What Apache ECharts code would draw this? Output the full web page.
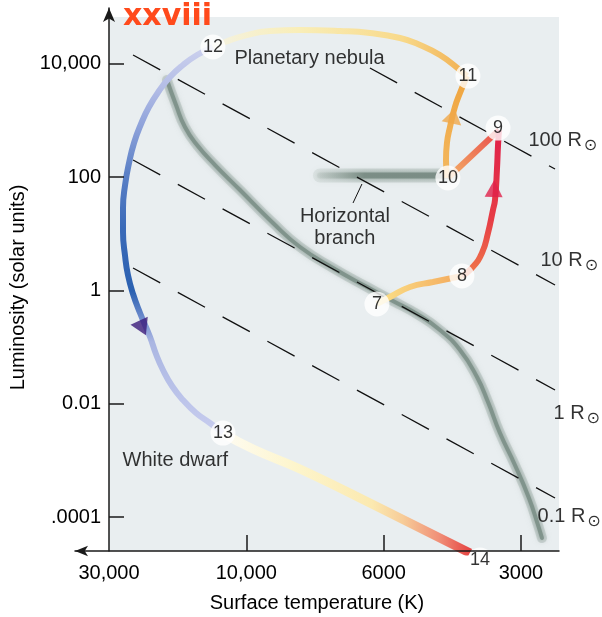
<!DOCTYPE html>
<html><head><meta charset="utf-8">
<script src="https://cdn.jsdelivr.net/npm/echarts@6/dist/echarts.min.js"></script>
<style>html,body{margin:0;padding:0;background:#fff}#c{width:602px;height:617px}</style>
</head><body><div id="c"></div>
<script>
// Axis ticks (x = position on the schematic temperature axis, y = log10 of luminosity)
const xTickValues = [0, 1, 2, 3];
const xTickLabels = ['30,000', '10,000', '6000', '3000'];
const yTickValues = [4, 2, 0, -2, -4];
const yTickLabels = ['10,000', '100', '1', '0.01', '.0001'];

// Main sequence band
const mainSequence = [[0.422,3.716],[0.488,3.274],[0.553,2.886],[0.641,2.568],[0.772,2.215],[0.954,1.774],[1.194,1.192],[1.391,0.768],[1.631,0.397],[1.879,0.062],[2.068,-0.185],[2.243,-0.415],[2.410,-0.697],[2.556,-1.050],[2.680,-1.527],[2.760,-1.968],[2.847,-2.516],[2.956,-3.080],[3.058,-3.663],[3.124,-4.139],[3.153,-4.369]];
const horizontalBranch = [[1.536,2.03],[2.483,2.03]];
const hbLeader = [[1.842,1.880],[1.777,1.545]];

// Evolutionary track segments
const track7to8 = [[1.951,-0.238],[2.046,-0.115],[2.192,0.062],[2.359,0.150],[2.570,0.256]];
const track8to9 = [[2.570,0.256],[2.643,0.397],[2.716,0.662],[2.760,1.015],[2.796,1.421],[2.811,1.598],[2.825,2.127],[2.833,2.568],[2.840,2.833]];
const track9to10 = [[2.840,2.833],[2.468,1.986]];
const track10to11 = [[2.461,1.986],[2.454,2.304],[2.461,2.604],[2.483,2.886],[2.519,3.239],[2.556,3.486],[2.607,3.786]];
const track11to12 = [[2.607,3.786],[2.556,3.892],[2.410,4.157],[2.265,4.334],[2.119,4.457],[1.900,4.545],[1.682,4.581],[1.391,4.598],[1.172,4.581],[0.976,4.492],[0.845,4.387],[0.757,4.298]];
const track12to13 = [[0.757,4.298],[0.641,4.157],[0.539,3.981],[0.444,3.769],[0.364,3.522],[0.291,3.239],[0.233,2.939],[0.182,2.604],[0.146,2.251],[0.117,1.862],[0.102,1.456],[0.102,1.033],[0.117,0.609],[0.138,0.274],[0.175,-0.062],[0.226,-0.397],[0.299,-0.821],[0.342,-1.121],[0.393,-1.403],[0.459,-1.686],[0.539,-1.933],[0.634,-2.162],[0.735,-2.339],[0.830,-2.516]];
const track13to14 = [[0.830,-2.516],[1.049,-2.798],[1.391,-3.151],[1.973,-3.840],[2.629,-4.634]];

// Stage markers
const stageLabels = ['7','8','9','10','11','12','13','14'];
const stagePos = [[1.951,-0.238],[2.570,0.256],[2.833,2.868],[2.468,1.986],[2.614,3.786],[0.757,4.298],[0.830,-2.516],[2.702,-4.757]];

// Direction arrows: position, rotation (deg)
const arrowPos = [[0.244,-0.662],[2.505,3.080],[2.803,1.800]];
const arrowRot = [-155, -12, -2];

// Constant-radius lines
const radiusLabels = ['100 R','10 R','1 R','0.1 R'];
const radiusLines = [
  [[1.900,3.928],[3.248,2.145]],
  [[0.175,4.157],[3.248,0.097]],
  [[0.175,2.304],[3.248,-1.756]],
  [[0.175,0.397],[3.248,-3.663]]
];
const radiusLabelPos = [[3.051,2.657],[3.138,0.538],[3.233,-2.162],[3.117,-3.980]];

// Region annotations
const annotationTexts = ['Planetary nebula','Horizontal\nbranch','White dwarf'];
const annotationPos = [[0.910,4.104],[1.718,1.121],[0.095,-2.992]];

const FONT = '"Liberation Sans", Arial, Helvetica, sans-serif';
const X_MIN = -0.2476, X_MAX = 3.277, Y_MIN = -4.598, Y_MAX = 4.987, BG_TOP = 4.828;

function grad(x, y, x2, y2, stops) {
  return {type:'linear', x:x, y:y, x2:x2, y2:y2, colorStops: stops.map(s => ({offset:s[0], color:s[1]}))};
}

const chart = echarts.init(document.getElementById('c'), null, {renderer:'canvas'});
const series = [];

// plot background
series.push({type:'line', data:[], z:0, silent:true,
  markArea:{silent:true, itemStyle:{color:'#e9eef0'}, data:[[{coord:[0, Y_MIN]},{coord:[X_MAX, BG_TOP]}]]}});

// soft grey bands: wide halo + core
[[10,'rgba(150,167,160,0.35)',6],[4,'rgba(122,142,134,0.85)',4]].forEach(s => {
  series.push({type:'line', data:mainSequence, smooth:0.5, showSymbol:false, silent:true, z:1,
    lineStyle:{color:s[1], width:s[0], cap:'round', shadowBlur:s[2], shadowColor:s[1]}});
});
[[14,'rgba(150,167,160,0.35)',6],[6,'rgba(118,137,129,0.85)',4]].forEach(s => {
  series.push({type:'line', data:horizontalBranch, showSymbol:false, silent:true, z:1,
    lineStyle:{width:s[0], cap:'round', shadowBlur:s[2], shadowColor:s[1],
      color:grad(0,0,1,0,[[0,'rgba(170,184,177,0.2)'],[0.35,s[1]],[1,s[1]]])}});
});

radiusLines.forEach(d => series.push({type:'line', data:d, showSymbol:false, silent:true, z:2,
  lineStyle:{color:'#111', width:1.3, type:[31,20]}}));
series.push({type:'line', data:hbLeader, showSymbol:false, silent:true, z:2, lineStyle:{color:'#111', width:1}});

function track(data, width, color) {
  series.push({type:'line', data:data, smooth:0.5, showSymbol:false, silent:true, z:4,
    lineStyle:{width:width, color:color, cap:'butt'}});
}
track(track12to13, 6, grad(0,0,0,1,[[0,'#cdd2ee'],[0.11,'#b4bde6'],[0.21,'#8ea2da'],[0.33,'#5b80c6'],[0.47,'#3a6ab8'],[0.63,'#2b61b1'],[0.70,'#6f8ccd'],[0.76,'#aab6e2'],[1,'#c8cdef']]));
track(track13to14, 9, grad(0,0,1,0,[[0,'#fefcf4'],[0.3,'#fdf5cc'],[0.6,'#fbe9b0'],[0.72,'#f7cc98'],[0.86,'#f09078'],[1,'#e43a3c']]));
track(track11to12, 6, grad(0,0,1,0,[[0,'#f4f2e2'],[0.34,'#f9eeb8'],[0.74,'#f8d98a'],[0.89,'#f4c068'],[1,'#f0ae4e']]));
track(track10to11, 6, grad(0,1,0,0,[[0,'#f3b860'],[1,'#efa43e']]));
track(track9to10, 6, grad(0,1,1,0,[[0,'#f4b768'],[1,'#e8454a']]));
track(track8to9, 6, grad(0,1,0,0,[[0,'#f07a4a'],[0.4,'#e63c46'],[1,'#e0204a']]));
track(track7to8, 6, grad(0,0,1,0,[[0,'#fbe38a'],[1,'#f3a65a']]));

const arrowColors = ['#3b1a7a','#f0a848','#e0204a'];
const arrowSizes = [[19,16],[20,15],[18,17]];
arrowPos.forEach((p,k) => series.push({type:'scatter', silent:true, z:5,
  data:[p], symbol:'triangle', symbolSize:arrowSizes[k], symbolRotate:arrowRot[k],
  itemStyle:{color:arrowColors[k]}}));

series.push({type:'scatter', silent:true, z:6, clip:false,
  data: stagePos.map((p,k) => ({value:p, text:stageLabels[k]})),
  symbol:'circle', symbolSize:25, itemStyle:{color:'#ffffff'},
  label:{show:true, position:'inside', formatter:p => p.data.text, color:'#000', fontSize:18, fontFamily:FONT}});

series.push({type:'scatter', silent:true, z:6,
  data: radiusLabelPos.map((p,k) => ({value:p, text:radiusLabels[k]})),
  symbolSize:1, itemStyle:{color:'rgba(0,0,0,0)'},
  label:{show:true, position:'right', distance:0, formatter:p => '{a|' + p.data.text + '}{b|⊙}',
    rich:{a:{fontSize:20, color:'#000', fontFamily:FONT}, b:{fontSize:16, color:'#000', fontFamily:'DejaVu Sans', padding:[12,0,0,2]}}}});

series.push({type:'scatter', silent:true, z:6,
  data: annotationPos.map((p,k) => ({value:p, text:annotationTexts[k],
    label: k === 1 ? {position:'inside', align:'center', lineHeight:22} : {}})),
  symbolSize:1, itemStyle:{color:'rgba(0,0,0,0)'},
  label:{show:true, position:'right', distance:0, formatter:p => p.data.text, color:'#000', fontSize:20, fontFamily:FONT}});

chart.setOption({
  animation:false,
  title:{text:'xxviii', left:123, top:2, padding:0,
    textStyle:{fontFamily:'DejaVu Sans', fontWeight:'bold', fontSize:30, color:'#ff4a1c'}},
  grid:{left:75, right:43, top:8, bottom:66, containLabel:false, outerBoundsMode:'none'},
  xAxis:{type:'value', min:X_MIN, max:X_MAX, z:10,
    name:'Surface temperature (K)', nameLocation:'middle', nameGap:42,
    nameTextStyle:{fontSize:20, color:'#000', fontFamily:FONT},
    axisLine:{onZero:false, symbol:['arrow','none'], symbolSize:[8,13], lineStyle:{color:'#1a1a1a', width:1.5}},
    axisTick:{show:true, inside:true, length:16, customValues:xTickValues.slice(1), lineStyle:{color:'#1a1a1a', width:1.5}},
    axisLabel:{show:true, customValues:xTickValues, margin:12, fontSize:20, color:'#000', fontFamily:FONT,
      formatter:v => xTickLabels[xTickValues.indexOf(v)]},
    splitLine:{show:false}},
  yAxis:{type:'value', min:Y_MIN, max:Y_MAX, z:10,
    name:'Luminosity (solar units)', nameLocation:'middle', nameGap:39,
    nameTextStyle:{fontSize:20, color:'#000', fontFamily:FONT, padding:[0,16,0,0]},
    axisLine:{onZero:true, symbol:['none','arrow'], symbolSize:[9,14], lineStyle:{color:'#1a1a1a', width:1.5}},
    axisTick:{show:true, inside:true, length:15, customValues:yTickValues, lineStyle:{color:'#1a1a1a', width:1.5}},
    axisLabel:{show:true, customValues:yTickValues, margin:-26, fontSize:20, color:'#000', fontFamily:FONT,
      formatter:v => yTickLabels[yTickValues.indexOf(v)]},
    splitLine:{show:false}},
  series:series
});
</script></body></html>
